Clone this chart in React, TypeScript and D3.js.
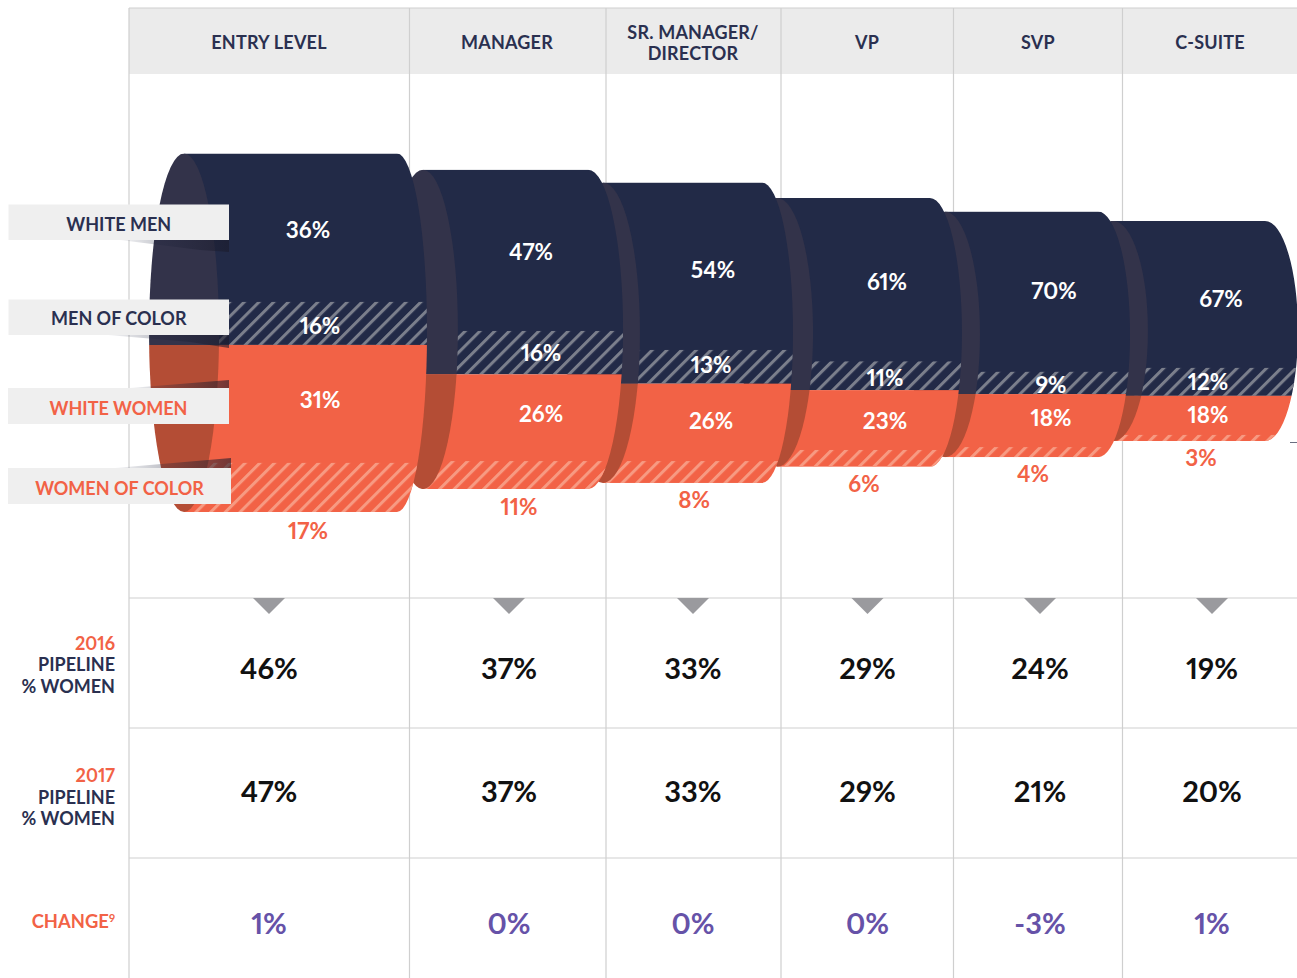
import * as d3 from "d3";

const levels = ["ENTRY LEVEL", "MANAGER", "SR. MANAGER/|DIRECTOR", "VP", "SVP", "C-SUITE"];

// labelled shares, percent
const whiteMen = [36, 47, 54, 61, 70, 67];
const menOfColor = [16, 16, 13, 11, 9, 12];
const whiteWomen = [31, 26, 26, 23, 18, 18];
const womenOfColor = [17, 11, 8, 6, 4, 3];

// band edges as drawn, percent of the entry level height from its top edge
const bandTop = [0, 4.5, 8.1, 12.4, 16.2, 18.8];
const menOfColorEdge = [41.4, 49.5, 54.8, 58, 60.9, 59.8];
const whiteWomenEdge = [53.4, 61.6, 64.2, 66, 67.1, 67.6];
const womenOfColorEdge = [86.3, 85.8, 85.8, 82.7, 81.9, 78.5];
const bandBottom = [100, 93.6, 91.9, 87.4, 84.7, 80.2];

// cylinder ends as drawn, percent of the chart width
const cylinderStart = [14.19, 32.61, 46.49, 59.91, 72.86, 85.81];
const cylinderEnd = [30.61, 45.34, 58.75, 71.7, 84.66, 97.53];

const pipeline2016 = ["46%", "37%", "33%", "29%", "24%", "19%"];
const pipeline2017 = ["47%", "37%", "33%", "29%", "21%", "20%"];
const change = ["1%", "0%", "0%", "0%", "-3%", "1%"];

const groupLabels = ["WHITE MEN", "MEN OF COLOR", "WHITE WOMEN", "WOMEN OF COLOR"];

const width = 1297;
const height = 978;
const columnEdges = [129, 409.5, 606, 781, 953.5, 1122.5, 1297];
const headerCenters = [269, 507, 693, 867, 1038, 1210];
const tableCenters = [269, 509, 693, 867.5, 1040, 1212];
const rowLines = [598, 728, 858];

const capRx = [35, 35, 37, 36, 35, 35];
const endRx = [30, 35, 31, 32, 32, 33];

// label anchors, same order as the columns
const whiteMenPos = [[308, 229], [531, 251], [713, 269], [887, 281], [1054, 290], [1221, 298]];
const menOfColorPos = [[320, 325], [541, 352], [711, 364], [885, 377], [1051, 384], [1208, 381]];
const whiteWomenPos = [[320, 399], [541, 413], [711, 420], [885, 420], [1051, 417], [1208, 414]];
const womenOfColorPos = [[308, 530], [519, 506], [694, 499], [864, 483], [1033, 473], [1201, 457]];

const legendBoxes = [
    { x: 8.5, y: 204.5, w: 220.5, h: 35.5, color: "#2a3050", textY: 231 },
    { x: 8.5, y: 299.5, w: 220.5, h: 35.5, color: "#2a3050", textY: 325 },
    { x: 8, y: 388, w: 221, h: 36, color: "#f26246", textY: 415 },
    { x: 8, y: 468, w: 223, h: 36, color: "#f26246", textY: 495 },
];

const shadows = [
    "120,240 229,240 229,252 200,250",
    "108,335 229,335 229,348 190,342",
    "130,388 229,380 229,388",
    "115,468 231,458 231,468",
];

const NAVY = "#222a47";
const ORANGE = "#f26246";
const NAVY_CAP = "#33334a";
const ORANGE_CAP = "#b44d35";
const GRID = "#cfcfcf";
const FONT = "Lato, sans-serif";

const y = d3.scaleLinear().domain([0, 100]).range([153.5, 512]);
const x = d3.scaleLinear().domain([0, 100]).range([0, width]);

function Cylinder({ i }: { i: number }) {
    const x0 = x(cylinderStart[i]);
    const x1 = x(cylinderEnd[i]);
    const top = y(bandTop[i]);
    const moc = y(menOfColorEdge[i]);
    const ww = y(whiteWomenEdge[i]);
    const woc = y(womenOfColorEdge[i]);
    const bottom = y(bandBottom[i]);
    const cy = (top + bottom) / 2;
    const ry = (bottom - top) / 2;
    const bandX = x0 - 1;
    const bandW = x1 + endRx[i] - bandX + 1;

    return (
        <g>
            <clipPath id={`body-${i}`}>
                <rect x={x0} y={top} width={x1 - x0} height={bottom - top} />
                <ellipse cx={x1} cy={cy} rx={endRx[i]} ry={ry} />
            </clipPath>
            <clipPath id={`cap-top-${i}`}>
                <rect x={x0 - capRx[i]} y={top} width={capRx[i] * 2} height={ww - top} />
            </clipPath>
            <clipPath id={`cap-bottom-${i}`}>
                <rect x={x0 - capRx[i]} y={ww} width={capRx[i] * 2} height={bottom - ww} />
            </clipPath>
            <g clipPath={`url(#body-${i})`}>
                <rect x={bandX} y={top} width={bandW} height={ww - top} fill={NAVY} />
                <rect x={bandX} y={moc} width={bandW} height={ww - moc} fill="url(#hatch-navy)" />
                <rect x={bandX} y={ww} width={bandW} height={bottom - ww} fill={ORANGE} />
                <rect x={bandX} y={woc} width={bandW} height={bottom - woc} fill="url(#hatch-orange)" />
            </g>
            <ellipse cx={x0} cy={cy} rx={capRx[i]} ry={ry} fill={NAVY_CAP} clipPath={`url(#cap-top-${i})`} />
            <ellipse cx={x0} cy={cy} rx={capRx[i]} ry={ry} fill={ORANGE_CAP} clipPath={`url(#cap-bottom-${i})`} />
        </g>
    );
}

function ShareLabels({ values, pos, fill }: { values: number[]; pos: number[][]; fill: string }) {
    return (
        <g fill={fill} fontSize={22.5} fontWeight={700} textAnchor="middle">
            {values.map((v, i) => (
                <text key={i} x={pos[i][0]} y={pos[i][1]} dy="0.4em">
                    {v}%
                </text>
            ))}
        </g>
    );
}

export default function App() {
    return (
        <svg
            width={width}
            height={height}
            viewBox={`0 0 ${width} ${height}`}
            style={{ position: "absolute", left: 0, top: 0, background: "#fff", fontVariantNumeric: "proportional-nums" }}
            fontFamily={FONT}
        >
            <defs>
                <pattern id="hatch-navy" patternUnits="userSpaceOnUse" width={10.4} height={10.4} patternTransform="rotate(45)">
                    <rect width={3} height={10.4} fill="#7b7f8c" />
                </pattern>
                <pattern id="hatch-orange" patternUnits="userSpaceOnUse" width={10.4} height={10.4} patternTransform="rotate(45)">
                    <rect width={3} height={10.4} fill="#f79a82" />
                </pattern>
                <linearGradient id="shadow-fade" x1="0" x2="1" y1="0" y2="0">
                    <stop offset="0" stopColor="#222a47" stopOpacity={0.05} />
                    <stop offset="1" stopColor="#1a1a2a" stopOpacity={0.6} />
                </linearGradient>
            </defs>

            {/* header band */}
            <rect x={columnEdges[0]} y={8} width={width - columnEdges[0]} height={66} fill="#ebebeb" />

            {/* grid */}
            <g stroke={GRID} strokeWidth={1.2}>
                {columnEdges.slice(0, -1).map((e) => (
                    <line key={e} x1={e} x2={e} y1={8} y2={height} />
                ))}
                <line x1={columnEdges[0]} x2={width} y1={8} y2={8} />
                {rowLines.map((r) => (
                    <line key={r} x1={columnEdges[0]} x2={width} y1={r} y2={r} />
                ))}
            </g>

            {/* header labels */}
            <g fill="#2a3050" fontSize={18} fontWeight={700} textAnchor="middle" letterSpacing={0.2}>
                {levels.map((l, i) => {
                    const lines = l.split("|");
                    return lines.map((t, k) => (
                        <text key={t} x={headerCenters[i]} y={49 + (k - (lines.length - 1) / 2) * 21}>
                            {t}
                        </text>
                    ));
                })}
            </g>

            {/* cylinders, right to left so each one overlaps the next cap */}
            {d3.range(levels.length - 1, -1, -1).map((i) => (
                <Cylinder key={i} i={i} />
            ))}
            <line x1={1290} x2={1297} y1={442.5} y2={442.5} stroke="#6a6e80" />

            <ShareLabels values={whiteMen} pos={whiteMenPos} fill="#fff" />
            <ShareLabels values={menOfColor} pos={menOfColorPos} fill="#fff" />
            <ShareLabels values={whiteWomen} pos={whiteWomenPos} fill="#fff" />
            <ShareLabels values={womenOfColor} pos={womenOfColorPos} fill={ORANGE} />

            {/* legend tags */}
            {shadows.map((s) => (
                <polygon key={s} points={s} fill="url(#shadow-fade)" />
            ))}
            {legendBoxes.map((b, i) => (
                <g key={b.y}>
                    <rect x={b.x} y={b.y} width={b.w} height={b.h} fill="#efefef" />
                    <text x={b.x + b.w / 2} y={b.textY} textAnchor="middle" fill={b.color} fontSize={18} fontWeight={700}>
                        {groupLabels[i]}
                    </text>
                </g>
            ))}

            {/* pointers */}
            <g fill="#9a9a9e">
                {tableCenters.map((c) => (
                    <path key={c} d={d3.line()([[c - 16, 598], [c + 16, 598], [c, 614]]) + "Z"} />
                ))}
            </g>

            {/* row titles */}
            <g fontSize={18} fontWeight={700} textAnchor="end">
                <text x={115} y={649.5} fill={ORANGE}>2016</text>
                <text x={115} y={671} fill="#2a3050">PIPELINE</text>
                <text x={115} y={693} fill="#2a3050">% WOMEN</text>
                <text x={115} y={781.5} fill={ORANGE}>2017</text>
                <text x={115} y={804} fill="#2a3050">PIPELINE</text>
                <text x={115} y={825} fill="#2a3050">% WOMEN</text>
                <text x={115} y={928} fill={ORANGE} fontSize={18.4}>
                    CHANGE<tspan fontSize={11} dy={-6}>9</tspan>
                </text>
            </g>

            {/* table values */}
            <g fontSize={29} fontWeight={700} textAnchor="middle">
                {pipeline2016.map((v, i) => (
                    <text key={i} x={tableCenters[i]} y={679} fill="#111">{v}</text>
                ))}
                {pipeline2017.map((v, i) => (
                    <text key={i} x={tableCenters[i]} y={802} fill="#111">{v}</text>
                ))}
                {change.map((v, i) => (
                    <text key={i} x={tableCenters[i]} y={934} fill="#6652a8">{v}</text>
                ))}
            </g>
        </svg>
    );
}
